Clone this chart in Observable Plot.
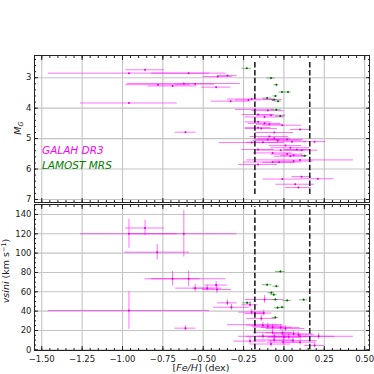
<!DOCTYPE html>
<html><head><meta charset="utf-8">
<script src="https://cdn.jsdelivr.net/npm/d3@7"></script>
<script src="https://cdn.jsdelivr.net/npm/@observablehq/plot@0.6"></script>
<style>
body{margin:0;background:#fff}
#c{width:374px;height:374px;position:relative;overflow:hidden}
svg{display:block}
</style>
</head><body><div id="c"></div>
<script>
// ---------------- DATA ----------------
// Top panel, GALAH DR3: [Fe/H], its error, M_G
const galahTopFeH = [-0.86,-0.96,-0.59,-0.41,-0.35,-0.78,-0.69,-0.62,-0.55,-0.42,-0.96,-0.61,-0.33,-0.22,-0.20,-0.07,-0.18,-0.10,-0.16,-0.12,-0.08,-0.16,-0.12,-0.09,-0.01,-0.14,-0.16,0.10,-0.06,-0.09,-0.06,-0.10,-0.04,0.02,-0.20,-0.13,0.05,0.19,0.01,0.04,0.08,0.11,-0.02,-0.16,-0.07,0.02,0.04,0.06,0.10,-0.07,-0.03,-0.16,0.06,0.11,-0.01,0.21,0.07,0.09];
const galahTopFeHErr = [0.12,0.50,0.23,0.09,0.06,0.20,0.15,0.35,0.12,0.09,0.30,0.065,0.12,0.08,0.15,0.06,0.12,0.10,0.10,0.12,0.09,0.08,0.10,0.08,0.12,0.10,0.08,0.06,0.12,0.12,0.10,0.08,0.15,0.10,0.20,0.10,0.09,0.07,0.10,0.12,0.08,0.10,0.15,0.10,0.12,0.10,0.10,0.08,0.33,0.18,0.10,0.12,0.12,0.06,0.12,0.10,0.12,0.08];
const galahTopMG = [2.74,2.85,2.85,2.96,2.93,3.23,3.27,3.19,3.21,3.31,3.83,4.79,3.77,3.73,3.70,3.72,4.04,4.08,4.21,4.29,4.23,4.45,4.50,4.53,4.56,4.67,4.64,4.70,4.80,4.93,4.99,5.03,5.06,5.03,5.13,5.12,5.10,5.10,5.23,5.30,5.36,5.38,5.38,5.36,5.47,5.51,5.58,5.55,5.70,5.77,5.78,5.85,5.74,6.25,6.33,6.32,6.50,6.61];
// Top panel, LAMOST MRS
const lamostTopFeH = [-0.23,-0.08,-0.047,-0.012,0.025,-0.053,-0.104,-0.06,-0.036,-0.047,-0.023,0.128];
const lamostTopFeHErr = [0.03,0.025,0.015,0.02,0.02,0.015,0.03,0.02,0.02,0.03,0.03,0.02];
const lamostTopMG = [2.69,3.01,3.23,3.47,3.47,3.60,3.67,3.72,3.77,4.05,4.26,5.56];
// Bottom panel, GALAH DR3: [Fe/H], error, vsini, error
const galahBotFeH = [-0.96,-0.86,-0.62,-0.785,-0.69,-0.59,-0.55,-0.475,-0.415,-0.42,-0.35,-0.325,-0.61,-0.96,-0.21,-0.12,-0.20,-0.18,-0.125,-0.14,-0.18,-0.13,-0.10,-0.07,-0.02,0.01,-0.07,-0.01,0.06,0.09,-0.13,-0.06,0.00,0.03,0.215,0.10,-0.21,-0.06,-0.005,0.056,0.10,0.19,-0.08];
const galahBotFeHErr = [0.30,0.12,0.33,0.20,0.17,0.23,0.12,0.09,0.09,0.07,0.06,0.11,0.065,0.50,0.05,0.12,0.08,0.06,0.05,0.09,0.17,0.10,0.10,0.12,0.12,0.12,0.12,0.10,0.12,0.10,0.15,0.10,0.10,0.12,0.10,0.33,0.10,0.12,0.10,0.15,0.10,0.06,0.12];
const galahBotVsini = [120,126,120,101,73.5,73.5,63.8,63.8,62.4,67,48.6,44,22.4,40.7,46.6,52,39,37.5,38,32.5,26,25.5,24.5,23.5,23,22,18,17.5,16.5,15.5,14,14,13,13.5,14,14,9,10.3,8,9.6,7.9,4.5,6];
const galahBotVsiniErr = [15,8,24,8,7.5,8,4,3,4,3.5,3,3,2.5,19.5,3,4,3,3,3,3,4,3,3,3,3,3,3,3,3,3,3,3,3,3,3,3,4,3,3,3,3,2.5,3];
// Bottom panel, LAMOST MRS
const lamostBotFeH = [-0.022,-0.104,-0.047,-0.078,-0.063,-0.053,0.02,0.122,-0.228,-0.04,-0.012,-0.053];
const lamostBotFeHErr = [0.03,0.03,0.02,0.02,0.02,0.02,0.025,0.025,0.03,0.02,0.02,0.02];
const lamostBotVsini = [81,67.3,65.8,59,57,52,51,51.7,48.6,43.5,44,33.4];
const lamostBotVsiniErr = [1,1,1,1,1,1,1,1,1,1,1,1];
// Boundary lines in [Fe/H] and their vertical extents
const boundsFeH = [-0.18, 0.16];
const mgSpan = [2.5, 6.88];
const vsiniSpan = [0, 148];
// Ticks
const xMajor = [-1.5,-1.25,-1.0,-0.75,-0.5,-0.25,0,0.25,0.5];
const mgMajor = [3,4,5,6,7];
const vsiniMajor = [0,20,40,60,80,100,120,140];
const xDomain = [-1.545, 0.53];
const mgDomain = [2.27, 7.1];
const vsiniDomain = [-0.7, 150.3];

// ---------------- BUILD ----------------
const topG = galahTopFeH.map((f,i)=>({feh:f, e:galahTopFeHErr[i], y:galahTopMG[i]}));
const topL = lamostTopFeH.map((f,i)=>({feh:f, e:lamostTopFeHErr[i], y:lamostTopMG[i]}));
const botG = galahBotFeH.map((f,i)=>({feh:f, e:galahBotFeHErr[i], y:galahBotVsini[i], ye:galahBotVsiniErr[i]}));
const botL = lamostBotFeH.map((f,i)=>({feh:f, e:lamostBotFeHErr[i], y:lamostBotVsini[i], ye:lamostBotVsiniErr[i]}));

const xMinor = d3.range(-1.5, 0.5001, 0.05).map(v=>+v.toFixed(2));
const mgMinor = d3.range(2.4, 7.01, 0.2).map(v=>+v.toFixed(1));
const vsMinor = d3.range(0, 150.1, 5);
const fmt = d3.format(".2f");
const MAG = "#ff00ff", MAGD = "#e000e0", GRN = "#2a9a2a", GRND = "#006400";
const grid = {stroke:"#c4c4c4", strokeOpacity:1, strokeWidth:1.1};

function axesMarks(yMajor, yMinor, showXLabels){
  const none = () => "";
  return [
    Plot.axisX(xMajor, {anchor:"bottom", tickSize:-4, tickPadding:9, tickFormat: showXLabels ? fmt : none, label:null, fontSize:8.5}),
    Plot.axisX(xMajor, {anchor:"top", tickSize:-4, tickFormat:none, label:null}),
    Plot.axisX(xMinor, {anchor:"bottom", tickSize:-2, tickFormat:none, label:null}),
    Plot.axisX(xMinor, {anchor:"top", tickSize:-2, tickFormat:none, label:null}),
    Plot.axisY(yMajor, {anchor:"left", tickSize:-4, tickPadding:7, label:null, fontSize:8.5}),
    Plot.axisY(yMajor, {anchor:"right", tickSize:-4, tickFormat:none, label:null}),
    Plot.axisY(yMinor, {anchor:"left", tickSize:-2, tickFormat:none, label:null}),
    Plot.axisY(yMinor, {anchor:"right", tickSize:-2, tickFormat:none, label:null})
  ];
}

const common = {width:374, marginLeft:34, marginRight:5,
  style:{fontFamily:"DejaVu Sans", fontSize:"8.5px", color:"#222", background:"#fff"},
  x:{domain:xDomain}};

const topPlot = Plot.plot({...common, height:203, marginTop:55, marginBottom:1,
  y:{domain:mgDomain, reverse:true},
  marks:[
    Plot.gridX(xMajor, grid), Plot.gridY(mgMajor, grid),
    Plot.ruleY(topG, {y:"y", x1:d=>d.feh-d.e, x2:d=>d.feh+d.e, stroke:MAG, strokeOpacity:0.55, strokeWidth:1}),
    Plot.dot(topG, {x:"feh", y:"y", r:1, fill:MAGD}),
    Plot.ruleY(topL, {y:"y", x1:d=>d.feh-d.e, x2:d=>d.feh+d.e, stroke:GRN, strokeOpacity:0.6, strokeWidth:1}),
    Plot.dot(topL, {x:"feh", y:"y", r:1, fill:GRND}),
    Plot.ruleX(boundsFeH, {y1:mgSpan[0], y2:mgSpan[1], stroke:"#222", strokeWidth:1.6, strokeDasharray:"5.5,2.4"}),
    Plot.frame({stroke:"#222"}),
    ...axesMarks(mgMajor, mgMinor, false)
  ]});

const botPlot = Plot.plot({...common, height:171, marginTop:1, marginBottom:24,
  y:{domain:vsiniDomain},
  marks:[
    Plot.gridX(xMajor, grid), Plot.gridY(vsiniMajor, grid),
    Plot.ruleY(botG, {y:"y", x1:d=>d.feh-d.e, x2:d=>d.feh+d.e, stroke:MAG, strokeOpacity:0.55, strokeWidth:1}),
    Plot.ruleX(botG, {x:"feh", y1:d=>d.y-d.ye, y2:d=>d.y+d.ye, stroke:MAG, strokeOpacity:0.55, strokeWidth:1}),
    Plot.dot(botG, {x:"feh", y:"y", r:1, fill:MAGD}),
    Plot.ruleY(botL, {y:"y", x1:d=>d.feh-d.e, x2:d=>d.feh+d.e, stroke:GRN, strokeOpacity:0.6, strokeWidth:1}),
    Plot.ruleX(botL, {x:"feh", y1:d=>d.y-d.ye, y2:d=>d.y+d.ye, stroke:GRN, strokeOpacity:0.6, strokeWidth:1}),
    Plot.dot(botL, {x:"feh", y:"y", r:1, fill:GRND}),
    Plot.ruleX(boundsFeH, {y1:vsiniSpan[0], y2:vsiniSpan[1], stroke:"#222", strokeWidth:1.6, strokeDasharray:"5.5,2.4"}),
    Plot.frame({stroke:"#222"}),
    ...axesMarks(vsiniMajor, vsMinor, true)
  ]});

const c = document.getElementById("c");
c.appendChild(topPlot); c.appendChild(botPlot);

// Labels and legend
const ts = d3.select(topPlot);
ts.append("text").attr("x",42).attr("y",154).attr("fill",MAG).attr("font-style","italic").attr("text-anchor","start")
  .attr("font-size","10.5px").attr("font-family","DejaVu Sans").text("GALAH DR3");
ts.append("text").attr("x",42).attr("y",169).attr("fill","#008000").attr("font-style","italic").attr("text-anchor","start")
  .attr("font-size","10.5px").attr("font-family","DejaVu Sans").text("LAMOST MRS");
const mg = ts.append("text").attr("transform","translate(21,128) rotate(-90)").attr("text-anchor","middle")
  .attr("font-size","9.5px").attr("font-family","DejaVu Sans").attr("fill","#222");
mg.append("tspan").attr("font-style","italic").text("M");
mg.append("tspan").attr("font-style","italic").attr("font-size","6.5px").attr("dy","2").text("G");

const bs = d3.select(botPlot);
const xl = bs.append("text").attr("x",201).attr("y",168).attr("text-anchor","middle")
  .attr("font-size","9.5px").attr("font-family","DejaVu Sans").attr("fill","#222");
xl.append("tspan").text("[");
xl.append("tspan").attr("font-style","italic").text("Fe/H");
xl.append("tspan").text("] (dex)");
const yl = bs.append("text").attr("transform","translate(9,68) rotate(-90)").attr("text-anchor","middle")
  .attr("font-size","9.5px").attr("font-family","DejaVu Sans").attr("fill","#222");
yl.append("tspan").attr("font-style","italic").text("vsini");
yl.append("tspan").text(" (km s");
yl.append("tspan").attr("font-size","6.5px").attr("dy","-3").text("−1");
yl.append("tspan").attr("dy","3").text(")");
</script>
</body></html>
